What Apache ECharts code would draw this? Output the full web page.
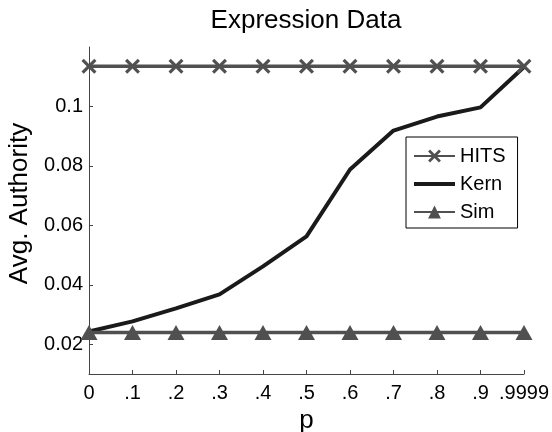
<!doctype html>
<html>
  <head>
    <meta charset="UTF-8" />
    <title>Expression Data</title>
    <script src="https://cdn.jsdelivr.net/npm/echarts/dist/echarts.min.js"></script>
    <style>
      html, body { margin: 0; padding: 0; background: #fff; }
      #main { width: 552px; height: 432px; }
    </style>
  </head>
  <body>
    <div id="main"></div>
    <script>
      // 数据
      const pLabels = ["0", ".1", ".2", ".3", ".4", ".5", ".6", ".7", ".8", ".9", ".9999"];
      const hitsData = [0.1135, 0.1135, 0.1135, 0.1135, 0.1135, 0.1135, 0.1135, 0.1135, 0.1135, 0.1135, 0.1135];
      const kernData = [0.0243, 0.0277, 0.0321, 0.0368, 0.0462, 0.0563, 0.0788, 0.0919, 0.0966, 0.0997, 0.1133];
      const simData = [0.0240, 0.0240, 0.0240, 0.0240, 0.0240, 0.0240, 0.0240, 0.0240, 0.0240, 0.0240, 0.0240];
      const yTicks = [0.02, 0.04, 0.06, 0.08, 0.1];

      const font = "Liberation Sans";
      const gray = "#505050";
      // 粗的 X 标记
      const crossPath =
        "path://M0,1.5L1.5,0L5,3.5L8.5,0L10,1.5L6.5,5L10,8.5L8.5,10L5,6.5L1.5,10L0,8.5L3.5,5Z";
      // Kern 图例只画一条线
      const barPath = "path://M0,0L41,0L41,4L0,4Z";

      const myChart = echarts.init(document.getElementById("main"));

      const option = {
        backgroundColor: "#fff",
        animation: false,
        title: {
          text: "Expression Data",
          left: 306,
          top: 8,
          padding: 0,
          textAlign: "center",
          textStyle: { fontFamily: font, fontSize: 26, fontWeight: "normal", color: "#000" },
        },
        legend: {
          orient: "vertical",
          left: 406,
          top: 137,
          padding: [9, 12, 6, 7],
          itemWidth: 41,
          itemHeight: 16,
          itemGap: 8,
          borderColor: "#000",
          borderWidth: 1,
          backgroundColor: "#fff",
          textStyle: { fontFamily: font, fontSize: 20, color: "#000" },
          data: ["HITS", { name: "Kern", icon: barPath }, "Sim"],
        },
        grid: {
          left: 89,
          right: 28,
          top: 47,
          bottom: 58,
          outerBoundsMode: "none",
        },
        xAxis: {
          type: "category",
          data: pLabels,
          boundaryGap: false,
          name: "p",
          nameLocation: "middle",
          nameGap: 34,
          nameTextStyle: { fontFamily: font, fontSize: 26, color: "#000" },
          axisLine: { lineStyle: { color: "#444", width: 1 } },
          axisTick: { inside: true, length: 4, alignWithLabel: true, lineStyle: { color: "#444" } },
          axisLabel: { fontFamily: font, fontSize: 20, color: "#000", margin: 9, interval: 0 },
          splitLine: { show: false },
        },
        yAxis: {
          type: "value",
          min: 0.01,
          max: 0.12,
          name: "Avg. Authority",
          nameLocation: "middle",
          nameRotate: 90,
          nameGap: 53,
          nameTextStyle: { fontFamily: font, fontSize: 26, color: "#000", padding: [0, 0, 0, 14] },
          axisLine: { show: true, lineStyle: { color: "#444", width: 1 } },
          axisTick: { show: true, inside: true, length: 4, customValues: yTicks, lineStyle: { color: "#444" } },
          axisLabel: { fontFamily: font, fontSize: 20, color: "#000", margin: 6, customValues: yTicks },
          splitLine: { show: false },
        },
        series: [
          {
            name: "HITS",
            type: "line",
            data: hitsData,
            symbol: crossPath,
            symbolSize: 15,
            showAllSymbol: true,
            lineStyle: { color: gray, width: 3.5 },
            itemStyle: { color: gray, borderWidth: 0 },
            z: 3,
          },
          {
            name: "Kern",
            type: "line",
            data: kernData,
            symbol: "none",
            lineStyle: { color: "#1a1a1a", width: 4 },
            itemStyle: { color: "#1a1a1a" },
            z: 2,
          },
          {
            name: "Sim",
            type: "line",
            data: simData,
            symbol: "triangle",
            symbolSize: [17, 15],
            showAllSymbol: true,
            lineStyle: { color: gray, width: 3.5 },
            itemStyle: { color: gray, borderWidth: 0 },
            z: 3,
          },
        ],
      };

      myChart.setOption(option);
    </script>
  </body>
</html>
